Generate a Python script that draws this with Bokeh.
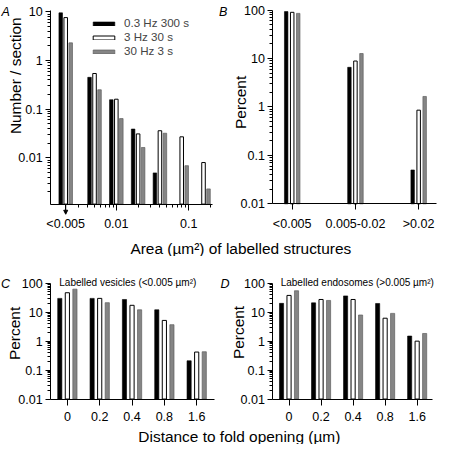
import math
from bokeh.plotting import figure
from bokeh.layouts import column, row
from bokeh.models import (FixedTicker, Label, Legend, LegendItem, Range1d,
                          Arrow, NormalHead)
from bokeh.embed import file_html
from bokeh.resources import INLINE

# ---------------- data ----------------
series_names = ["0.3 Hz 300 s", "3 Hz 30 s", "30 Hz 3 s"]

# Panel A: number / section per area bin (lower bin edge in µm²; first bin = "<0.005")
area_bins = [0.002, 0.005, 0.01, 0.02, 0.04, 0.08, 0.16]
area_black = [9.5, 0.45, 0.156, 0.039, 0.0049, None, None]
area_white = [7.6, 0.54, 0.16, 0.031, 0.036, 0.027, 0.008]
area_gray = [2.3, 0.25, 0.064, 0.0163, 0.032, 0.0069, 0.0023]
area_ticks = [0.002, 0.01, 0.1]
area_tick_labels = ["<0.005", "0.01", "0.1"]
number_ticks = [0.01, 0.1, 1, 10]
number_tick_labels = ["0.01", "0.1", "1", "10"]

# Panel B: percent per size class
size_classes = ["<0.005", "0.005-0.02", ">0.02"]
size_black = [93.3, 6.6, 0.05]
size_white = [90.2, 8.9, 0.86]
size_gray = [85.7, 12.7, 1.65]

# Panels C, D: percent vs distance to fold opening (µm)
distances = ["0", "0.2", "0.4", "0.8", "1.6"]
vesicle_black = [30, 30, 27.5, 12.1, 0.21]
vesicle_white = [47, 30, 17.3, 5.2, 0.42]
vesicle_gray = [62.5, 21.3, 12.1, 3.7, 0.43]
endosome_black = [20.2, 21, 36.5, 20, 1.5]
endosome_white = [38, 27.5, 27.5, 6.2, 1.0]
endosome_gray = [55, 25.5, 8, 9.1, 1.84]

percent_ticks = [0.01, 0.1, 1, 10, 100]
percent_tick_labels = ["0.01", "0.1", "1", "10", "100"]

# ---------------- styling ----------------
S = 0.965          # scale so that the whole fits inside the page margin
FONT = "Liberation Sans"


def px(v):
    return int(round(v * S))


def fpx(v):
    return f"{v * S:.2f}px"


STYLES = [
    dict(fill_color="#000000", line_color="#000000", line_width=0.6),
    dict(fill_color="#ffffff", line_color="#000000", line_width=1.0),
    dict(fill_color="#858585", line_color="#5e5e5e", line_width=0.7),
]


def minor_log(lo_exp, hi_exp, lo, hi):
    return [m * 10.0 ** e for e in range(lo_exp, hi_exp + 1) for m in range(2, 10)
            if lo < m * 10.0 ** e < hi]


def extend(r, p0, p1, q0, q1, log):
    """Values at canvas pixels q0, q1 given that pixels p0, p1 show r[0], r[1]."""
    a, b = (math.log10(r[0]), math.log10(r[1])) if log else r
    k = (b - a) / (p1 - p0)
    va, vb = a + (q0 - p0) * k, a + (q1 - p0) * k
    return (10 ** va, 10 ** vb) if log else (va, vb)


class Panel:
    """A figure whose frame is its whole canvas; axes are drawn at fixed locations."""

    def __init__(self, canvas, frame, xr, yr, x_log=False, y_log=True):
        cl, ct, cr, cb = canvas
        fl, ft, fr, fb = frame
        self.cl, self.cb = px(cl), px(cb)
        W, H = px(cr) - px(cl), px(cb) - px(ct)
        x0, x1 = extend(xr, fl * S, fr * S, px(cl), px(cr), x_log)
        y0, y1 = extend(yr, fb * S, ft * S, px(cb), px(ct), y_log)
        p = figure(frame_width=W, frame_height=H, min_border=0,
                   x_range=Range1d(x0, x1), y_range=Range1d(y0, y1),
                   x_axis_type="log" if x_log else "linear",
                   y_axis_type="log" if y_log else "linear",
                   output_backend="svg", toolbar_location=None)
        p.title.visible = False
        p.outline_line_color = None
        p.grid.visible = False
        p.background_fill_color = "white"
        p.border_fill_color = "white"
        xa, ya = p.xaxis[0], p.yaxis[0]
        xa.fixed_location = yr[0]
        xa.bounds = tuple(xr)
        ya.fixed_location = xr[0]
        ya.bounds = tuple(yr)
        for ax in (xa, ya):
            ax.axis_line_color = "black"
            ax.axis_line_width = 1
            ax.major_tick_line_color = "black"
            ax.minor_tick_line_color = "black"
            ax.major_tick_in = 0
            ax.minor_tick_in = 0
            ax.major_label_text_font = FONT
            ax.major_label_text_font_size = fpx(13)
            ax.major_label_text_color = "black"
        ya.major_tick_out = px(5)
        ya.minor_tick_out = px(3)
        ya.major_label_standoff = px(3)
        xa.major_tick_out = px(6)
        xa.minor_tick_out = px(3)
        xa.major_label_standoff = px(7)
        self.p = p
        self.xr, self.yr = xr, yr

    def ticks(self, axis, ticks, labels, minor):
        axis.ticker = FixedTicker(ticks=ticks, minor_ticks=minor)
        axis.major_label_overrides = {t: l for t, l in zip(ticks, labels)}

    def text(self, text, X, Y, size, angle=0.0, align="left", style="normal"):
        # X, Y: reference-picture coordinates of the text anchor (baseline)
        self.p.add_layout(Label(x=X * S - self.cl, y=self.cb - Y * S,
                                x_units="screen", y_units="screen",
                                text=text, angle=angle, text_align=align,
                                text_baseline="alphabetic", text_font=FONT,
                                text_font_size=fpx(size), text_font_style=style,
                                text_color="black"))


def grouped_vbars(p, groups, series, offset, width, bottom):
    for k, vals in enumerate(series):
        xs = [i + (k - 1) * offset for i in range(len(groups))]
        p.vbar(x=xs, top=vals, bottom=bottom, width=width, **STYLES[k])


def strip(top, bottom, text, cx, baseline):
    p = figure(frame_width=px(453), frame_height=px(bottom) - px(top),
               min_border=0, x_range=(0, 1), y_range=(0, 1),
               x_axis_location=None, y_axis_location=None,
               output_backend="svg", toolbar_location=None)
    p.title.visible = False
    p.outline_line_color = None
    p.grid.visible = False
    p.add_layout(Label(x=cx * S, y=px(bottom) - baseline * S,
                       x_units="screen", y_units="screen", text=text,
                       text_align="center", text_baseline="alphabetic",
                       text_font=FONT, text_font_size=fpx(16), text_color="black"))
    return p


ROW1 = (0, 240)
ROW2 = (265, 440)

# ---------------- panel A ----------------
A = Panel((0, ROW1[0], 226, ROW1[1]), (52, 10, 220, 211),
          (0.00124, 0.215), (0.00112, 10.8), x_log=True, y_log=True)
pA = A.p
A.ticks(pA.xaxis[0], area_ticks, area_tick_labels, minor_log(-3, -1, 0.0025, 0.215))
A.ticks(pA.yaxis[0], number_ticks, number_tick_labels, minor_log(-3, 0, 0.00112, 10.8))

A_OFF = 0.069   # decades between neighbouring bars
A_HW = 0.0245   # half bar width in decades
a_renderers = []
for k, vals in enumerate([area_black, area_white, area_gray]):
    pts = [(b, v) for b, v in zip(area_bins, vals) if v is not None]
    centers = [b * 10 ** ((k - 1) * A_OFF) for b, _ in pts]
    r = pA.quad(left=[c * 10 ** -A_HW for c in centers],
                right=[c * 10 ** A_HW for c in centers],
                top=[v for _, v in pts], bottom=A.yr[0], **STYLES[k])
    a_renderers.append(r)

legend = Legend(items=[LegendItem(label=n, renderers=[r]) for n, r in zip(series_names, a_renderers)],
                location=(93.3 * S, px(ROW1[1]) - 60.5 * S), orientation="vertical",
                padding=0, margin=0, spacing=0, glyph_width=px(28), glyph_height=px(5),
                label_height=px(15), label_standoff=px(7), label_text_font=FONT,
                label_text_font_size=fpx(12), border_line_color=None,
                background_fill_alpha=0)
pA.add_layout(legend)

ppd = (px(211) - px(10)) / (math.log10(A.yr[1]) - math.log10(A.yr[0]))
pA.add_layout(Arrow(x_start=area_ticks[0], x_end=area_ticks[0],
                    y_start=A.yr[0], y_end=A.yr[0] * 10 ** (-10.5 * S / ppd),
                    line_color="black", line_width=1,
                    end=NormalHead(size=px(4), fill_color="black", line_color="black",
                                   line_width=1)))

A.text("Number / section", 15.5, 78, 16, angle=math.pi / 2, align="center")
A.text("A", 1, 11.5, 13, style="italic")

# ---------------- panel B ----------------
B = Panel((226, ROW1[0], 453, ROW1[1]), (282.3, 10, 452, 210.7),
          (-0.305, 2.285), (0.01, 100))
pB = B.p
B.ticks(pB.xaxis[0], list(range(len(size_classes))), size_classes, [])
B.ticks(pB.yaxis[0], percent_ticks, percent_tick_labels, minor_log(-2, 1, 0.01, 100))
grouped_vbars(pB, size_classes, [size_black, size_white, size_gray], 0.095, 0.055, 0.01)
B.text("Percent", 248.3, 105.6, 16, angle=math.pi / 2, align="center")
B.text("B", 226.5, 12, 13, style="italic")

# ---------------- panel C ----------------
C = Panel((0, ROW2[0], 226, ROW2[1]), (52, 293, 222, 413),
          (-0.516, 4.558), (0.01, 100))
pC = C.p
C.ticks(pC.xaxis[0], list(range(len(distances))), distances, [])
C.ticks(pC.yaxis[0], percent_ticks, percent_tick_labels, minor_log(-2, 1, 0.01, 100))
grouped_vbars(pC, distances, [vesicle_black, vesicle_white, vesicle_gray], 0.234, 0.129, 0.01)
C.text("Percent", 15, 345, 16, angle=math.pi / 2, align="center")
C.text("C", 0.5, 293.3, 13, style="italic")
C.text("Labelled vesicles (<0.005 µm²)", 131.9, 292, 10.4, align="center")

# ---------------- panel D ----------------
D = Panel((226, ROW2[0], 453, ROW2[1]), (282.3, 293, 447.7, 413),
          (-0.503, 4.48), (0.01, 100))
pD = D.p
D.ticks(pD.xaxis[0], list(range(len(distances))), distances, [])
D.ticks(pD.yaxis[0], percent_ticks, percent_tick_labels, minor_log(-2, 1, 0.01, 100))
grouped_vbars(pD, distances, [endosome_black, endosome_white, endosome_gray], 0.234, 0.129, 0.01)
D.text("Percent", 246.7, 344, 16, angle=math.pi / 2, align="center")
D.text("D", 228, 293.3, 13, style="italic")
D.text("Labelled endosomes (>0.005 µm²)", 369.7, 292, 10.4, align="center")

# ---------------- shared axis titles ----------------
s1 = strip(ROW1[1], ROW2[0], "Area (µm²) of labelled structures", 249, 256.7)
s2 = strip(ROW2[1], 460, "Distance to fold opening (µm)", 247.5, 452)

layout = column(row(pA, pB), s1, row(pC, pD), s2)
open("out.html", "w").write(file_html(layout, INLINE))
